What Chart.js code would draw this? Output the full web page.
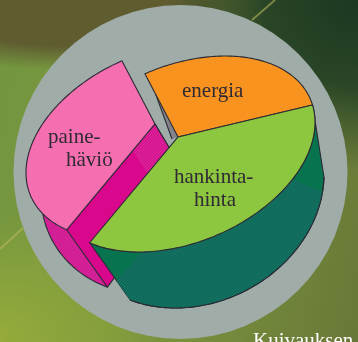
<!DOCTYPE html>
<html>
<head>
<meta charset="utf-8">
<title>Kuivauksen kustannukset</title>
<script src="https://cdn.jsdelivr.net/npm/chart.js@4"></script>
<style>
html, body { margin: 0; padding: 0; width: 358px; height: 342px; overflow: hidden; }
body {
    background:
        radial-gradient(ellipse 190px 170px at 358px 0px, #1b3822 0%, #2a4526 50%, rgba(42,69,38,0) 100%),
        radial-gradient(ellipse 210px 62px at 70px 8px, #5f5d30 0%, #5f5d30 62%, rgba(95,93,48,0) 100%),
        radial-gradient(ellipse 150px 130px at 0px 340px, #95ab3a 0%, rgba(149,171,58,0) 100%),
        linear-gradient(100deg, #729540 0%, #7f9a3e 40%, #697838 100%);
}
canvas { display: block; }
</style>
</head>
<body>
<canvas id="pieChart" width="358" height="342"></canvas>
<script>
var categories = [["energia"], ["hankinta-", "hinta"], ["paine-", "häviö"]];
var shares = [30, 35, 35];
var sliceColors = ["#f9931f", "#8dc63f", "#f56fb0"];
var footerText = "Kuivauksen";

// ellipses of the tilted top and bottom of the pie
var topFace = { cx: 182, cy: 154, sx: 133, skew: -31.7, h: 92.7, apex: [-0.03, -0.194] };
var baseFace = { cx: 194, cy: 191, sx: 130, skew: -16.7, h: 115.8, apex: [0.128, 0.023] };
var sliceShift = [[0, 0], [0, 0], [-23, -13]];
var labelPos = [[[182, 97]], [[174, 183], [194, 206]], [[48, 143], [66, 166]]];

var lineColor = "#2a2a35";
var discColor = "#a0aca8";
var textFont = "21px 'Liberation Serif'";

function toScreen(face, u, v, shift) {
    return [face.cx + face.sx * u + shift[0], face.cy + face.skew * u + face.h * v + shift[1]];
}

function apexPoint(face, shift) {
    return toScreen(face, face.apex[0], face.apex[1], shift);
}

function rimPoint(face, angle, shift) {
    var dx = Math.cos(angle), dy = Math.sin(angle);
    var px = face.apex[0], py = face.apex[1];
    var b = px * dx + py * dy;
    var t = -b + Math.sqrt(b * b - (px * px + py * py - 1));
    return toScreen(face, px + t * dx, py + t * dy, shift);
}

function rimPoints(face, from, to, shift) {
    var pts = [];
    var steps = Math.max(2, Math.ceil(Math.abs(to - from) / 0.02));
    for (var i = 0; i <= steps; i++) {
        pts.push(rimPoint(face, from + (to - from) * i / steps, shift));
    }
    return pts;
}

function lerp(a, b, f) {
    return [a[0] + (b[0] - a[0]) * f, a[1] + (b[1] - a[1]) * f];
}

function tracePath(ctx, pts, close) {
    ctx.beginPath();
    ctx.moveTo(pts[0][0], pts[0][1]);
    for (var i = 1; i < pts.length; i++) {
        ctx.lineTo(pts[i][0], pts[i][1]);
    }
    if (close) ctx.closePath();
}

function fillShape(ctx, pts, fill, stroke) {
    tracePath(ctx, pts, true);
    ctx.fillStyle = fill;
    ctx.fill();
    if (stroke) {
        ctx.strokeStyle = lineColor;
        ctx.lineWidth = 1.1;
        ctx.stroke();
    }
}

function strokeLine(ctx, pts) {
    tracePath(ctx, pts, false);
    ctx.strokeStyle = lineColor;
    ctx.lineWidth = 1.1;
    ctx.stroke();
}

function hatch(ctx, bg, fg) {
    var c = document.createElement("canvas");
    c.width = 3;
    c.height = 3;
    var g = c.getContext("2d");
    g.fillStyle = bg;
    g.fillRect(0, 0, 3, 3);
    g.fillStyle = fg;
    g.fillRect(0, 2, 1, 1);
    g.fillRect(1, 1, 1, 1);
    g.fillRect(2, 0, 1, 1);
    return ctx.createPattern(c, "repeat");
}

var backdrop = {
    id: "backdrop",
    beforeDraw: function (chart) {
        var ctx = chart.ctx;
        ctx.save();
        ctx.strokeStyle = "rgba(190,190,95,0.55)";
        ctx.lineWidth = 2;
        tracePath(ctx, [[252, 20], [275, 0]], false);
        ctx.stroke();
        tracePath(ctx, [[0, 249], [23, 228]], false);
        ctx.stroke();
        ctx.beginPath();
        ctx.arc(180.5, 172, 167, 0, Math.PI * 2);
        ctx.fillStyle = discColor;
        ctx.fill();
        ctx.restore();
    }
};

var tiltedPie = {
    id: "tiltedPie",
    beforeDatasetsDraw: function (chart) {
        var ctx = chart.ctx;
        var arcs = chart.getDatasetMeta(0).data;
        var energy = arcs[0], cost = arcs[1], loss = arcs[2];
        var lossShift = sliceShift[2], none = [0, 0];

        ctx.save();
        ctx.lineJoin = "round";

        // pink slice: outer wall and cut face
        var wallEnd = loss.startAngle + (loss.endAngle - loss.startAngle) * 0.45;
        var outerTop = rimPoints(topFace, loss.startAngle, wallEnd, lossShift);
        var outerBase = rimPoints(baseFace, loss.startAngle, wallEnd, lossShift);
        fillShape(ctx, outerTop.concat(outerBase.slice().reverse()), hatch(ctx, "#cf1c92", "#da279b"), false);
        strokeLine(ctx, outerBase);

        var a = apexPoint(topFace, lossShift), b = rimPoint(topFace, loss.startAngle, lossShift);
        var c = rimPoint(baseFace, loss.startAngle, lossShift), d = apexPoint(baseFace, lossShift);
        fillShape(ctx, [a, b, c, d], "#d9078c", true);
        fillShape(ctx, [a, lerp(a, b, 0.25), lerp(d, c, 0.25), d], hatch(ctx, "#d4158f", "#df269b"), false);
        strokeLine(ctx, [a, d]);

        // green slice wall
        var costTop = rimPoints(topFace, cost.startAngle, cost.endAngle, none);
        var costBase = rimPoints(baseFace, cost.startAngle, cost.endAngle, none);
        var wall = costTop.concat(costBase.slice().reverse());
        fillShape(ctx, wall, "#08744f", true);
        var span = cost.endAngle - cost.startAngle;
        var hatched = rimPoints(topFace, cost.startAngle + span * 0.325, cost.startAngle + span * 0.82, none);
        hatched.push(lerp(rimPoint(topFace, cost.endAngle, none), rimPoint(baseFace, cost.endAngle, none), 0.66));
        hatched = hatched.concat(rimPoints(baseFace, cost.endAngle, cost.startAngle + span * 0.07, none));
        fillShape(ctx, hatched, hatch(ctx, "#0f695a", "#177564"), false);
        strokeLine(ctx, costBase);

        // tops
        fillShape(ctx, [apexPoint(topFace, lossShift)].concat(rimPoints(topFace, loss.startAngle, loss.endAngle, lossShift)), sliceColors[2], true);

        var ap = apexPoint(topFace, none), up = rimPoint(topFace, energy.startAngle, none);
        var edge = lerp(up, ap, 0.33);
        fillShape(ctx, [edge, ap, [ap[0] - 6, ap[1] + 2]], "#84838a", false);
        strokeLine(ctx, [edge, [ap[0] - 6, ap[1] + 2]]);

        fillShape(ctx, [ap].concat(rimPoints(topFace, energy.startAngle, energy.endAngle, none)), sliceColors[0], true);
        fillShape(ctx, [ap].concat(costTop), sliceColors[1], true);

        // labels
        ctx.font = textFont;
        ctx.fillStyle = "#2f2a33";
        ctx.textBaseline = "alphabetic";
        categories.forEach(function (lines, i) {
            lines.forEach(function (line, j) {
                ctx.fillText(line, labelPos[i][j][0], labelPos[i][j][1]);
            });
        });
        ctx.fillStyle = "#ffffff";
        ctx.fillText(footerText, 253, 347);
        ctx.restore();

        return false;
    }
};

new Chart(document.getElementById("pieChart").getContext("2d"), {
    type: "pie",
    data: {
        labels: categories,
        datasets: [{ data: shares, backgroundColor: sliceColors }]
    },
    options: {
        responsive: false,
        animation: false,
        rotation: -18,
        plugins: { legend: { display: false }, tooltip: { enabled: false } }
    },
    plugins: [backdrop, tiltedPie]
});
</script>
</body>
</html>
